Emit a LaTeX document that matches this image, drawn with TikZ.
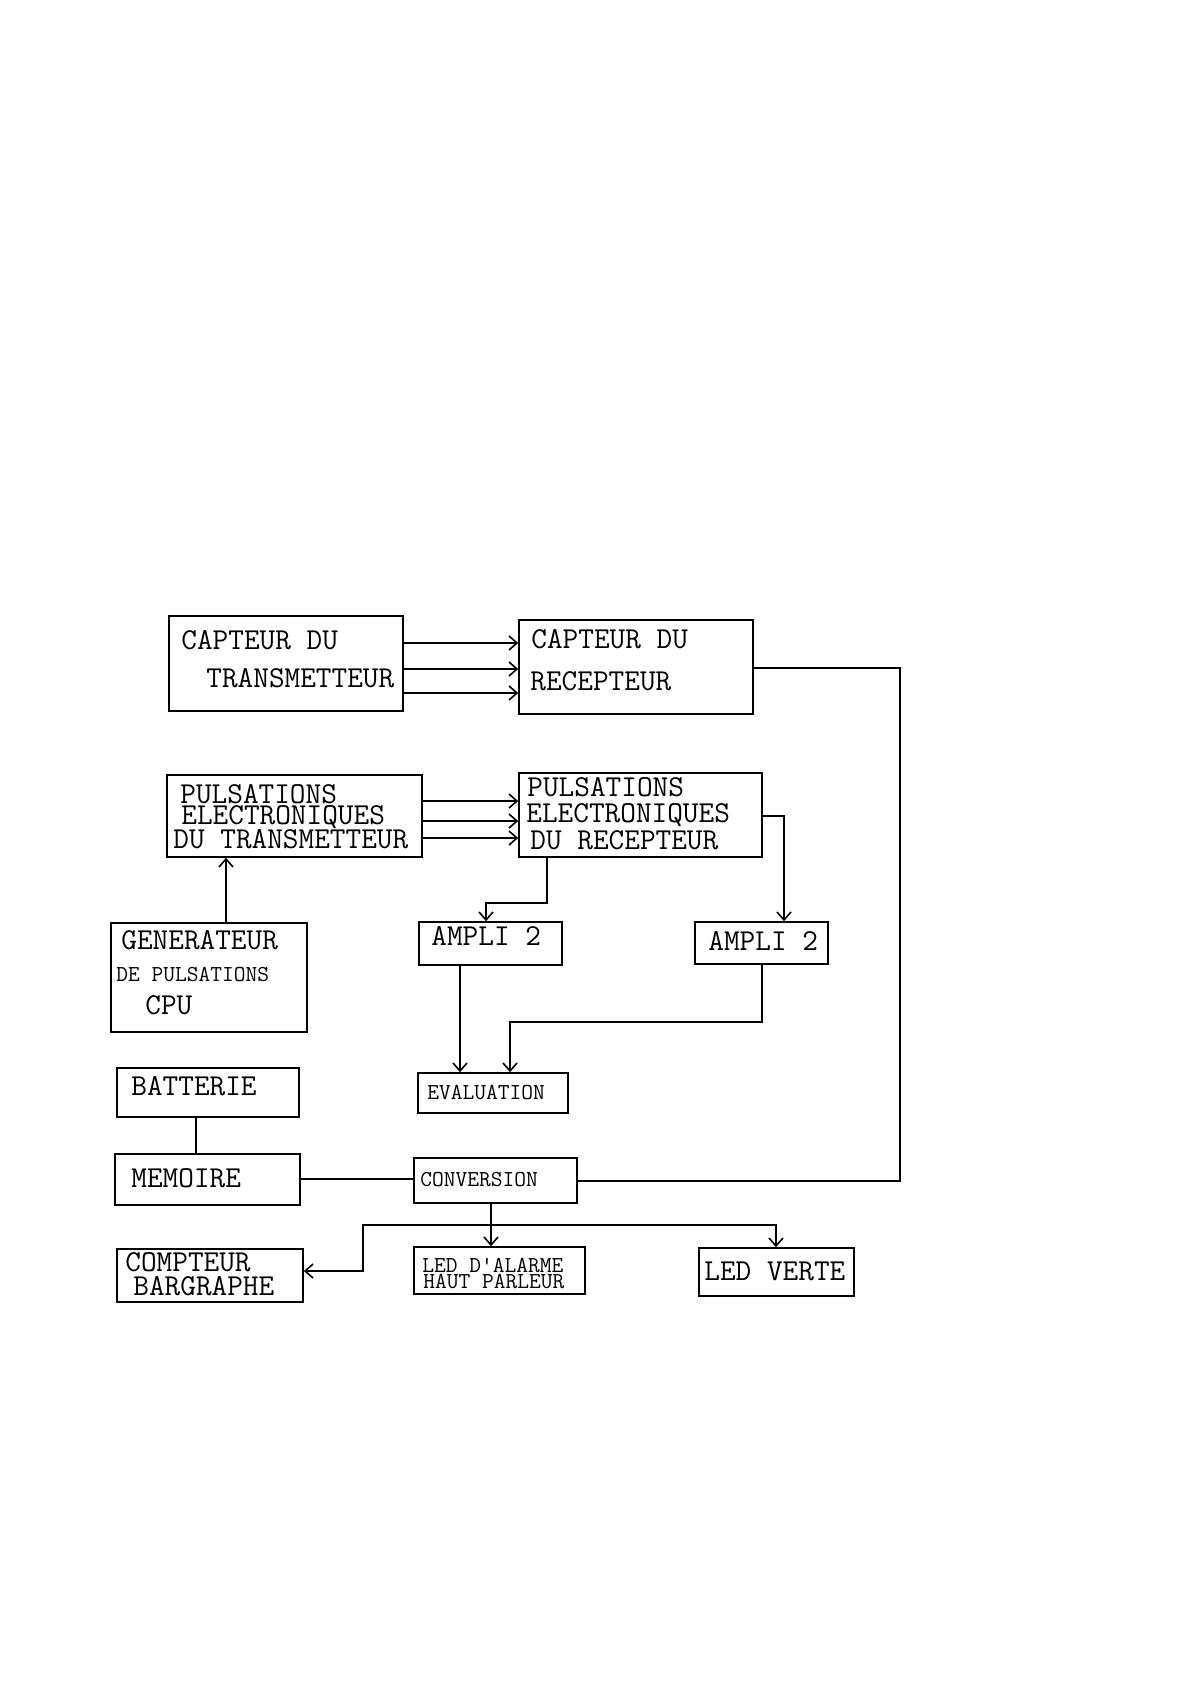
\documentclass[tikz,border=0pt]{standalone}
\usepackage{fontspec}
\usetikzlibrary{arrows.meta,fit}
\begin{document}
\begin{tikzpicture}[x=0.5pt,y=-0.5pt,
  blk/.style={draw, line width=0.8pt, inner sep=0pt, rectangle},
  big/.style={inner sep=0pt, anchor=base west, font=\ttfamily\fontsize{15.2}{15.2}\selectfont},
  small/.style={inner sep=0pt, anchor=base west, font=\ttfamily\fontsize{11.4}{11.4}\selectfont},
  wire/.style={line width=0.8pt},
  arr/.style={wire, -{Straight Barb[length=4pt,width=7pt]}}]
\useasboundingbox (0,0) rectangle (1191,1684);
% boxes
\node[blk, fit={(169,616) (403,711)}] (capT) {};
\node[blk, fit={(519,620) (753,714)}] (capR) {};
\node[blk, fit={(167,775) (422,857)}] (pulT) {};
\node[blk, fit={(519,773) (762,857)}] (pulR) {};
\node[blk, fit={(111,923) (307,1032)}] (gen) {};
\node[blk, fit={(419,922) (562,965)}] (amp1) {};
\node[blk, fit={(695,922) (828,964)}] (amp2) {};
\node[blk, fit={(418,1073) (568,1113)}] (eval) {};
\node[blk, fit={(117,1068) (299,1117)}] (bat) {};
\node[blk, fit={(115,1154) (300,1205)}] (mem) {};
\node[blk, fit={(414,1158) (577,1203)}] (conv) {};
\node[blk, fit={(117,1249) (303,1302)}] (comp) {};
\node[blk, fit={(414,1247) (585,1294)}] (led1) {};
\node[blk, fit={(699,1248) (854,1296)}] (led2) {};
% texts
\node[big] (t1) at (181,649) {CAPTEUR DU};
\node[big] (t2) at (206,687) {TRANSMETTEUR};
\node[big] (t3) at (531,648) {CAPTEUR DU};
\node[big] (t4) at (530,690) {RECEPTEUR};
\node[big] (t5) at (180,803) {PULSATIONS};
\node[big] (t6) at (181,824) {ELECTRONIQUES};
\node[big] (t7) at (173,848) {DU TRANSMETTEUR};
\node[big] (t8) at (527,796) {PULSATIONS};
\node[big] (t9) at (526,822) {ELECTRONIQUES};
\node[big] (t10) at (530,849) {DU RECEPTEUR};
\node[big] (t11) at (121,949) {GENERATEUR};
\node[small] (t12) at (116,981) {DE PULSATIONS};
\node[big] (t13) at (145,1014) {CPU};
\node[big] (t14) at (431,945) {AMPLI 2};
\node[big] (t15) at (708,950) {AMPLI 2};
\node[small] (t16) at (427,1099) {EVALUATION};
\node[big] (t17) at (131,1095) {BATTERIE};
\node[big] (t18) at (131,1187) {MEMOIRE};
\node[small] (t19) at (420,1186) {CONVERSION};
\node[big] (t20) at (125,1271) {COMPTEUR};
\node[big] (t21) at (133,1295) {BARGRAPHE};
\node[small] (t22) at (422,1272) {LED D'ALARME};
\node[small] (t23) at (423,1288) {HAUT PARLEUR};
\node[big] (t24) at (704,1280) {LED VERTE};
% connectors
\foreach \yy in {643,669,693}
  \draw[arr] (capT.east |- 0,\yy) -- (capR.west |- 0,\yy);
\foreach \yy in {801,821,838}
  \draw[arr] (pulT.east |- 0,\yy) -- (pulR.west |- 0,\yy);
\draw[wire] (capR.east |- 0,668) -- (900,668) -- (900,1181) -- (conv.east |- 0,1181);
\draw[arr] (gen.north -| 226,0) -- (pulT.south -| 226,0);
\draw[arr] (pulR.south -| 547,0) -- (547,903) -- (486,903) -- (amp1.north -| 486,0);
\draw[arr] (pulR.east |- 0,816) -- (784,816) -- (amp2.north -| 784,0);
\draw[arr] (amp1.south -| 460,0) -- (eval.north -| 460,0);
\draw[arr] (amp2.south -| 762,0) -- (762,1022) -- (510,1022) -- (eval.north -| 510,0);
\draw[wire] (bat.south -| 196,0) -- (mem.north -| 196,0);
\draw[wire] (mem.east |- 0,1179) -- (conv.west |- 0,1179);
\draw[arr] (conv.south -| 491,0) -- (led1.north -| 491,0);
\coordinate (jn) at (491,1225);
\draw[arr] (jn) -- (776,1225) -- (led2.north -| 776,0);
\draw[arr] (jn) -- (363,1225) -- (363,1271) -- (comp.east |- 0,1271);
\end{tikzpicture}
\end{document}
